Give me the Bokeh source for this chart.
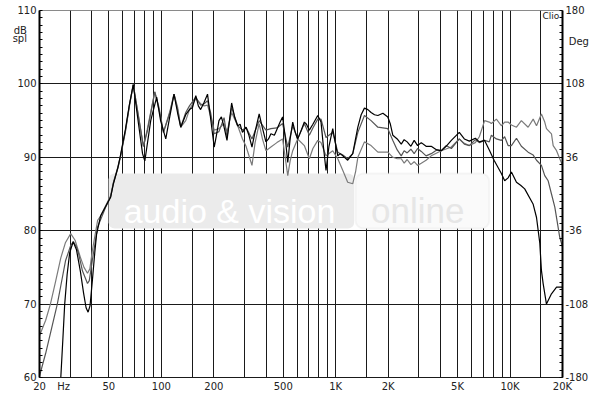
from bokeh.plotting import figure
from bokeh.models import (FixedTicker, LinearAxis, Range1d, CustomJSTickFormatter,
                          Label, BoxAnnotation)
from bokeh.embed import file_html
from bokeh.resources import INLINE

# ---------------- data ----------------
# curve 1 (black)
black_freq = [26.5, 27.2, 27.9, 28.8, 29.8, 31.2, 32.6, 34.3, 35.8, 37.0, 38.0, 39.0, 40.2, 41.5,
              42.5, 44.8, 47.9, 51.2, 53.1, 56.3, 58.2, 62.2, 65.6, 69.0, 74.0, 78.0, 80.4, 86.9,
              94.0, 99.0, 106, 111.7, 118.2, 124, 129.2, 138, 145, 151, 157.6, 163, 168, 176,
              184, 190, 201, 207, 214, 221, 229, 238, 253, 263, 274, 283, 292, 306, 318, 331,
              345, 364, 380, 398, 412, 425, 445, 460, 480, 496, 512, 531, 548, 567, 585, 605,
              630, 661, 680, 706, 740, 789, 824, 850, 880, 915, 962, 995, 1028, 1060, 1099,
              1172, 1253, 1300, 1340, 1400, 1462, 1530, 1596, 1670, 1746, 1866, 1991, 2060,
              2128, 2254, 2377, 2470, 2570, 2700, 2820, 2950, 3097, 3300, 3532, 3800, 4034,
              4300, 4606, 5117, 5470, 5844, 6324, 6668, 7150, 7605, 8100, 8920, 9318, 9750,
              10186, 10890, 11500, 12140, 13580, 14190, 14820, 15140, 15490, 16180, 17290,
              18490, 20000]
black_db = [60.0, 65.0, 70.0, 74.0, 77.0, 78.5, 77.4, 74.5, 71.5, 69.5, 68.9, 69.8, 73.2, 77.0,
            79.5, 82.0, 83.3, 84.6, 86.4, 88.6, 90.2, 93.8, 97.2, 99.9, 94.5, 90.5, 89.5, 95.0,
            98.2, 95.0, 92.5, 95.5, 98.6, 96.0, 94.1, 95.8, 96.5, 96.8, 98.4, 97.0, 96.5, 97.5,
            98.6, 96.0, 91.4, 93.0, 95.0, 95.5, 94.1, 92.3, 97.4, 95.5, 94.3, 94.5, 93.4, 94.1,
            93.0, 91.4, 93.5, 95.9, 94.0, 92.1, 92.5, 93.2, 93.0, 93.8, 94.8, 95.5, 93.0, 89.3,
            92.5, 94.8, 93.5, 92.5, 93.5, 94.8, 94.5, 93.7, 94.5, 95.7, 94.8, 91.5, 88.2, 91.5,
            93.9, 92.0, 90.2, 90.5, 90.2, 89.6, 90.5, 92.5, 94.1, 95.8, 96.7, 96.5, 96.1, 95.8,
            95.7, 96.0, 95.5, 94.5, 93.0, 92.5, 91.8, 92.4, 92.1, 91.5, 92.3, 91.6, 92.0, 91.5,
            91.5, 91.0, 90.9, 91.5, 92.3, 93.4, 92.5, 92.2, 92.6, 92.1, 92.3, 91.0, 89.6, 87.8,
            86.8, 87.2, 88.0, 86.6, 86.2, 85.7, 83.6, 81.8, 78.3, 74.6, 72.8, 70.0, 71.4, 72.3,
            72.3]

# curve 2 (dark grey)
grey1_freq = [20, 21.7, 23.1, 25.3, 26.5, 28.2, 30.2, 31.3, 32.6, 33.5, 35.3, 37.7, 38.6, 40.2,
              43.1, 44.8, 47.9, 51.2, 53.1, 56.3, 58.2, 62.2, 65.6, 69.0, 74.0, 78.9, 83.0,
              91.7, 97.0, 102.8, 111.7, 118.2, 124, 129.2, 138, 145, 157.6, 168, 176, 184,
              192, 201, 214, 229, 238, 253, 274, 292, 306, 331, 364, 398, 425, 460, 496, 531,
              567, 605, 661, 706, 740, 789, 824, 880, 962, 1028, 1099, 1172, 1253, 1340, 1462,
              1596, 1746, 1866, 1991, 2128, 2254, 2377, 2470, 2570, 2700, 2820, 2950, 3097,
              3300, 3532, 3800, 4034, 4300, 4606, 5117, 5470, 5844, 6324, 6668, 7150, 7605,
              7816, 8352, 8920, 9318, 9750, 10186, 10890, 11616, 12700, 13580, 14190, 15140,
              15820, 16550, 17290, 18070, 19290, 20000]
grey1_db = [60.2, 63.3, 66.0, 70.0, 72.5, 75.9, 78.0, 78.5, 77.8, 76.9, 74.5, 72.8, 73.2, 76.0,
            80.5, 81.5, 83.2, 84.6, 86.5, 88.5, 90.0, 93.5, 97.0, 99.9, 95.5, 91.5, 93.5, 98.9,
            96.5, 93.4, 96.0, 98.6, 96.5, 94.1, 96.1, 97.0, 98.2, 97.1, 97.3, 97.7, 96.0, 93.2,
            93.5, 95.4, 92.7, 96.8, 94.3, 93.7, 94.1, 92.5, 95.0, 93.7, 93.9, 94.0, 94.6, 91.4,
            94.3, 92.5, 94.6, 93.0, 94.0, 95.2, 95.2, 92.7, 93.4, 90.7, 90.3, 89.8, 90.5, 93.4,
            95.7, 95.0, 94.1, 94.0, 93.9, 92.3, 91.0, 90.2, 90.9, 90.6, 91.1, 90.5, 91.2, 90.8,
            90.2, 90.5, 91.0, 90.9, 91.6, 91.2, 92.5, 91.8, 91.6, 92.4, 92.0, 92.3, 92.1, 93.0,
            92.5, 92.3, 92.8, 91.6, 91.6, 92.6, 91.5, 90.7, 90.3, 89.6, 88.9, 87.5, 86.8, 85.0,
            83.2, 79.1, 77.8]

# curve 3 (light grey)
grey2_freq = [20, 21.7, 23.1, 24.8, 26.5, 28.2, 30.2, 32.0, 34.3, 36.0, 37.7, 38.9, 40.2, 43.1,
              44.8, 47.9, 51.2, 53.1, 56.3, 58.2, 62.2, 65.6, 69.0, 74.0, 78.9, 83.0, 91.7,
              97.0, 102.8, 111.7, 118.2, 124, 129.2, 138, 145, 157.6, 168, 176, 184, 192, 201,
              214, 229, 238, 253, 274, 292, 306, 331, 345, 364, 380, 398, 425, 460, 496, 531,
              548, 567, 605, 661, 706, 740, 789, 824, 880, 962, 1028, 1099, 1172, 1253, 1300,
              1340, 1462, 1596, 1746, 1991, 2128, 2254, 2377, 2470, 2570, 2700, 2820, 2950,
              3097, 3300, 3532, 4034, 4606, 5117, 5470, 5844, 6324, 6668, 7150, 7605, 7816,
              8352, 8920, 9318, 9750, 10186, 10890, 11616, 12700, 13580, 14190, 15140, 15820,
              16180, 17290, 17680, 18490, 19290, 20000]
grey2_db = [65.7, 67.8, 70.0, 73.2, 76.3, 78.4, 79.6, 78.7, 76.4, 75.0, 74.2, 74.8, 77.3, 81.4,
            82.0, 83.4, 84.8, 86.6, 88.7, 90.1, 93.6, 97.1, 99.9, 95.5, 91.5, 93.8, 98.9, 96.8,
            93.4, 96.2, 98.6, 96.8, 94.1, 95.0, 96.5, 98.0, 97.3, 97.0, 97.1, 95.5, 93.7, 93.9,
            94.6, 93.5, 96.1, 94.3, 92.5, 91.5, 88.9, 92.0, 94.6, 92.5, 90.9, 91.4, 92.0, 92.5,
            87.5, 89.5, 90.9, 92.5, 91.6, 89.8, 91.2, 92.3, 92.0, 90.2, 90.9, 89.8, 88.2, 86.6,
            86.4, 88.0, 90.0, 92.1, 91.6, 90.7, 90.7, 90.0, 89.8, 89.8, 89.2, 89.7, 89.0, 89.4,
            88.9, 89.2, 89.6, 90.2, 90.9, 91.4, 92.5, 91.9, 91.6, 92.0, 92.8, 95.0, 94.8, 94.6,
            95.2, 94.3, 94.8, 94.8, 94.4, 94.1, 95.0, 94.1, 95.2, 94.3, 95.9, 94.8, 93.9, 93.2,
            91.6, 90.9, 89.8, 88.9]

# axes / ticks
x_label_freqs = [20, 27.5, 50, 100, 200, 500, 1000, 2000, 5000, 10000, 20000]
x_label_texts = ["20", "Hz", "50", "100", "200", "500", "1K", "2K", "5K", "10K", "20K"]
grid_freqs = [30, 40, 50, 60, 70, 80, 90, 100, 150, 200, 300, 400, 500, 600, 700, 800, 900,
              1000, 1500, 2000, 3000, 4000, 5000, 6000, 7000, 8000, 9000, 10000, 15000]
db_ticks = [60, 70, 80, 90, 100, 110, 107.3, 106.2]
db_texts = ["60", "70", "80", "90", "100", "110",
            "dB\u00a0\u00a0\u00a0", "spl\u00a0\u00a0\u00a0"]
db_minor = list(range(60, 111))
db_grid = [70, 80, 90, 100]
deg_ticks = [-180, -108, -36, 36, 108, 180, 149.6]
deg_texts = ["-180", "-108", "-36", "36", "108", "180", "\u00a0Deg"]
deg_minor = [-180 + 7.2 * i for i in range(51)]

LOOKUP = """
    for (let i = 0; i < vals.length; i++) {
        if (Math.abs(vals[i] - tick) < 1e-6 * Math.max(1, Math.abs(vals[i]))) { return labs[i]; }
    }
    return "";
"""

# ---------------- figure ----------------
FONT = "DejaVu Sans"
p = figure(width=600, height=396, x_axis_type="log", x_range=(20, 20000), y_range=(60, 110),
           output_backend="svg", toolbar_location=None,
           min_border_left=39, min_border_right=38, min_border_top=10, min_border_bottom=19,
           background_fill_color="white", border_fill_color="white")
p.outline_line_color = "#8a8a8a"
p.outline_line_width = 1

# watermark (underlay)
wm_box = BoxAnnotation(left=49.8, right=1276, bottom=80.3, top=87.8, fill_color="#ebebeb",
                       fill_alpha=1.0, line_color=None, level="underlay", border_radius=6)
wm_box2 = BoxAnnotation(left=1300, right=7600, bottom=80.3, top=87.8, fill_color="#fafafa",
                        fill_alpha=1.0, line_color="#e2e2e2", line_width=2, level="underlay",
                        border_radius=8)
p.add_layout(wm_box)
p.add_layout(wm_box2)
p.add_layout(Label(x=60.8, y=82.7, text="audio & vision", text_font="Liberation Sans",
                   text_font_size="34px", text_color="white", text_baseline="alphabetic",
                   level="underlay"))
p.add_layout(Label(x=1596, y=82.7, text="online", text_font="Liberation Sans",
                   text_font_size="35px", text_color="#e6e6e6", text_baseline="alphabetic",
                   level="underlay"))

# grids
p.xgrid.ticker = FixedTicker(ticks=grid_freqs)
p.xgrid.grid_line_color = "#1a1a1a"
p.xgrid.grid_line_width = 1
p.ygrid.ticker = FixedTicker(ticks=db_grid)
p.ygrid.grid_line_color = "#1a1a1a"
p.ygrid.grid_line_width = 1

# bottom axis
xa = p.xaxis[0]
xa.ticker = FixedTicker(ticks=x_label_freqs)
xa.formatter = CustomJSTickFormatter(args=dict(vals=x_label_freqs, labs=x_label_texts),
                                     code=LOOKUP)
xa.major_tick_in = 0
xa.major_tick_out = 0
xa.minor_tick_in = 0
xa.minor_tick_out = 0
xa.axis_line_color = "#1a1a1a"
xa.major_label_standoff = 3
xa.major_label_text_font = FONT
xa.major_label_text_font_size = "10px"
xa.major_label_text_color = "#222222"

# left axis
ya = p.yaxis[0]
ya.ticker = FixedTicker(ticks=db_ticks, minor_ticks=db_minor)
ya.formatter = CustomJSTickFormatter(args=dict(vals=db_ticks, labs=db_texts), code=LOOKUP)
ya.axis_line_color = "black"
ya.axis_line_width = 2
ya.major_tick_in = 0
ya.major_tick_out = 0
ya.minor_tick_in = 3
ya.minor_tick_out = 0
ya.major_label_standoff = 3
ya.major_label_text_font = FONT
ya.major_label_text_font_size = "10px"
ya.major_label_text_color = "#222222"

# right axis (phase)
p.extra_y_ranges = {"deg": Range1d(-180, 180)}
ra = LinearAxis(y_range_name="deg", ticker=FixedTicker(ticks=deg_ticks, minor_ticks=deg_minor))
ra.formatter = CustomJSTickFormatter(args=dict(vals=deg_ticks, labs=deg_texts), code=LOOKUP)
ra.axis_line_color = "black"
ra.axis_line_width = 2
ra.major_tick_in = 0
ra.major_tick_out = 0
ra.minor_tick_in = 3
ra.minor_tick_out = 0
ra.major_label_standoff = 3
ra.major_label_text_font = FONT
ra.major_label_text_font_size = "10px"
ra.major_label_text_color = "#222222"
p.add_layout(ra, "right")

# curves
p.line(grey2_freq, grey2_db, line_color="#7a7a7a", line_width=1.2)
p.line(grey1_freq, grey1_db, line_color="#555555", line_width=1.2)
p.line(black_freq, black_db, line_color="black", line_width=1.2)

# "Clio" tag inside the frame
p.add_layout(Label(x=15340, y=109.3, text="Clio", text_font=FONT, text_font_size="9px",
                   text_color="#222222", text_baseline="middle", text_align="left"))

open("out.html", "w").write(file_html(p, INLINE))
